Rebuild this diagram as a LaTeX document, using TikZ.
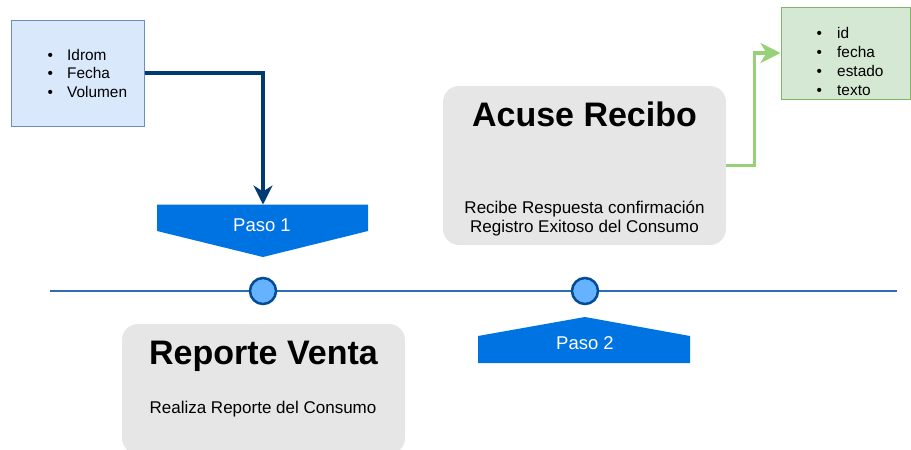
\documentclass[tikz,border=0pt]{standalone}
\usepackage{fontspec}
\setmainfont{Liberation Sans}
\usetikzlibrary{arrows.meta}
\definecolor{bluefill}{HTML}{DAE8FC}
\definecolor{bluedraw}{HTML}{6C8EBF}
\definecolor{greenfill}{HTML}{D5E8D4}
\definecolor{greendraw}{HTML}{82B366}
\definecolor{greenarrow}{HTML}{97D077}
\definecolor{darkarrow}{HTML}{003A70}
\definecolor{pasoblue}{HTML}{0073E3}
\definecolor{grayfill}{HTML}{E6E6E6}
\definecolor{lineblue}{HTML}{2E6DB4}
\definecolor{dotfill}{HTML}{66B2FF}
\definecolor{dotdraw}{HTML}{004C99}
\tikzset{
  listbox/.style={draw=#1, line width=1pt, inner sep=0pt},
  graybox/.style={fill=grayfill, rounded corners=16pt},
  pasoshape/.style={fill=pasoblue, draw=none},
  bul/.style={anchor=base west, inner sep=0pt, font=\fontsize{15.4}{18.5}\selectfont},
  titletext/.style={anchor=base, inner sep=0pt, font=\fontsize{34}{40}\selectfont\bfseries},
  smalltext/.style={anchor=base, inner sep=0pt, font=\fontsize{17}{19}\selectfont},
  pasotext/.style={anchor=base, inner sep=0pt, text=white, font=\fontsize{18.5}{22}\selectfont},
  dot/.style={circle, fill=dotfill, draw=dotdraw, line width=2.5pt, minimum size=26pt, inner sep=0pt},
}
\begin{document}
\begin{tikzpicture}[x=1pt,y=-1pt]
\useasboundingbox (0,0) rectangle (911,450);
% timeline
\coordinate (tlA) at (50,291);
\coordinate (tlB) at (897,291);
\draw[lineblue, line width=2pt] (tlA) -- (tlB);
\node[dot] (c1) at (263,291) {};
\node[dot] (c2) at (585,291) {};
% blue list box
\node[listbox=bluedraw, fill=bluefill, minimum width=133pt, minimum height=106pt] (blue) at (77.5,73) {};
\node[bul] (b1a) at (47.5,60) {\textbullet};
\node[bul] (b1b) at (47.5,78.5) {\textbullet};
\node[bul] (b1c) at (47.5,97) {\textbullet};
\node[bul] (t1a) at (67,60) {Idrom};
\node[bul] (t1b) at (67,78.5) {Fecha};
\node[bul] (t1c) at (67,97) {Volumen};
% green list box
\node[listbox=greendraw, fill=greenfill, minimum width=129pt, minimum height=92pt] (green) at (845.5,53) {};
\node[bul] (b2a) at (816.5,38.5) {\textbullet};
\node[bul] (b2b) at (816.5,57.5) {\textbullet};
\node[bul] (b2c) at (816.5,76.5) {\textbullet};
\node[bul] (b2d) at (816.5,95.5) {\textbullet};
\node[bul] (t2a) at (837,38.5) {id};
\node[bul] (t2b) at (837,57.5) {fecha};
\node[bul] (t2c) at (837,76.5) {estado};
\node[bul] (t2d) at (837,95.5) {texto};
% Paso 1
\fill[pasoshape] (157,204.5) -- (368,204.5) -- (368,231) -- (263,257) -- (157,231) -- cycle;
\coordinate (p1top) at (263,204.5);
\node[pasotext] (p1) at (262,231) {Paso 1};
% Paso 2
\fill[pasoshape] (478,363) -- (690,363) -- (690,336) -- (585,317) -- (478,336) -- cycle;
\node[pasotext] (p2) at (585,349.5) {Paso 2};
% Acuse Recibo box
\node[graybox, minimum width=283pt, minimum height=159pt, inner sep=0pt] (acuse) at (584.5,165.5) {};
\node[titletext] (acuseT) at (584.5,126) {Acuse Recibo};
\node[smalltext] (acuse1) at (584.5,213) {Recibe Respuesta confirmación};
\node[smalltext] (acuse2) at (584.5,232) {Registro Exitoso del Consumo};
% Reporte Venta box
\node[graybox, minimum width=283pt, minimum height=130pt, inner sep=0pt] (reporte) at (263.5,389) {};
\node[titletext] (reporteT) at (263.5,364) {Reporte Venta};
\node[smalltext] (reporte1) at (263,413) {Realiza Reporte del Consumo};
% connectors
\draw[darkarrow, line width=3.2pt, -{Stealth[length=19pt,width=19pt,inset=6pt]}] (blue.east) -| (p1top);
\draw[greenarrow, line width=3.2pt, -{Stealth[length=20pt,width=20pt,inset=6pt]}] (acuse.east) -- ++(28,0) |- (green.west);
\end{tikzpicture}
\end{document}
